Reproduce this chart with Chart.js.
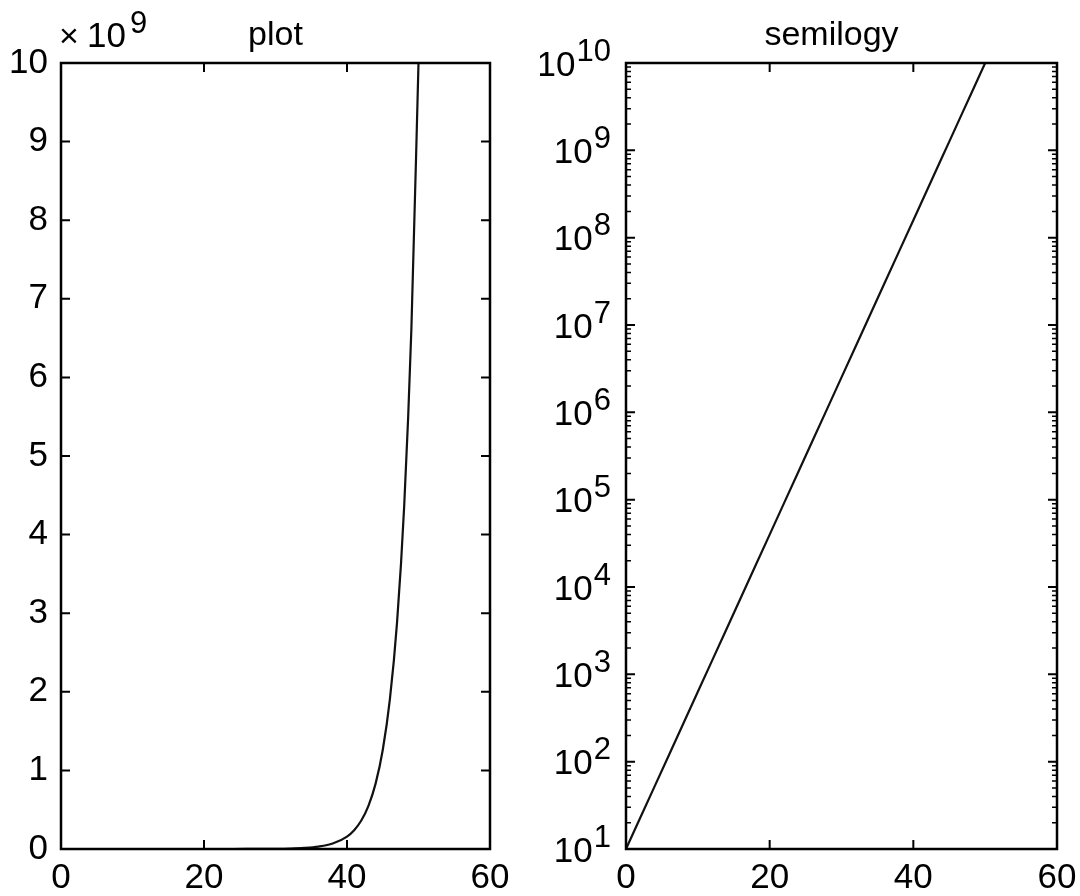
<!DOCTYPE html>
<html>
<head>
<meta charset="utf-8">
<script src="https://cdn.jsdelivr.net/npm/chart.js@4"></script>
<style>
  body { margin: 0; background: #fff; }
  canvas { position: absolute; top: 0; }
  #left { left: 0; }
  #right { left: 540px; }
</style>
</head>
<body>
<canvas id="left" width="540" height="896"></canvas>
<canvas id="right" width="540" height="896"></canvas>
<script>
// values (same curve in both panels)
const xVals = [0, 2, 4, 6, 8, 10, 12, 14, 16, 18, 20, 22, 24, 26, 28, 30, 32, 34, 36, 38,
  40, 41, 42, 43, 44, 45, 46, 47, 48, 49, 50];
const yVals = [10, 22.9, 52.5, 120, 275, 631, 1445, 3311, 7586, 17378, 39811, 91201,
  208930, 478630, 1096478, 2511886, 5754399, 13182567, 30199517, 69183097,
  158489319, 239883292, 363078055, 549540874, 831763771, 1258925412, 1905460718,
  2884031503, 4365158322, 6606934480, 10000000000];
const xTicks = [0, 20, 40, 60];
const linTicks = [0, 1, 2, 3, 4, 5, 6, 7, 8, 9, 10]; // x 10^9
const logExps = [1, 2, 3, 4, 5, 6, 7, 8, 9, 10];
const titles = ['plot', 'semilogy'];

const FONT = '"Liberation Sans", Arial, Helvetica, sans-serif';
Chart.defaults.font.family = FONT;
Chart.defaults.color = '#000';

const points = xVals.map((x, i) => ({ x: x, y: yVals[i] }));

// frame, inward ticks, title and the x10^9 / 10^n labels
const boxPlugin = {
  id: 'box',
  afterDatasetsDraw(chart, args, opts) {
    const ctx = chart.ctx;
    const a = chart.chartArea;
    const sx = chart.scales.x, sy = chart.scales.y;
    ctx.save();
    ctx.strokeStyle = '#000';
    ctx.lineWidth = 2;
    ctx.beginPath();
    xTicks.forEach(v => {
      const px = sx.getPixelForValue(v);
      ctx.moveTo(px, a.bottom); ctx.lineTo(px, a.bottom - 9);
      ctx.moveTo(px, a.top); ctx.lineTo(px, a.top + 9);
    });
    let majors, minors = [];
    if (opts.log) {
      majors = logExps.map(e => Math.pow(10, e));
      logExps.slice(0, -1).forEach(e => {
        for (let m = 2; m <= 9; m++) minors.push(m * Math.pow(10, e));
      });
    } else {
      majors = linTicks.map(v => v * 1e9);
    }
    majors.forEach(v => {
      const py = sy.getPixelForValue(v);
      ctx.moveTo(a.left, py); ctx.lineTo(a.left + 9, py);
      ctx.moveTo(a.right, py); ctx.lineTo(a.right - 9, py);
    });
    ctx.stroke();
    ctx.lineWidth = 1.5;
    ctx.beginPath();
    minors.forEach(v => {
      const py = sy.getPixelForValue(v);
      ctx.moveTo(a.left, py); ctx.lineTo(a.left + 5, py);
      ctx.moveTo(a.right, py); ctx.lineTo(a.right - 5, py);
    });
    ctx.stroke();
    ctx.lineWidth = 2.5;
    ctx.strokeRect(a.left, a.top, a.right - a.left, a.bottom - a.top);

    ctx.fillStyle = '#000';
    ctx.textBaseline = 'alphabetic';
    ctx.textAlign = 'center';
    ctx.font = '34px ' + FONT;
    ctx.fillText(opts.title, (a.left + a.right) / 2 + (opts.titleShift || 0), 45);

    if (opts.log) {
      logExps.forEach(e => {
        const py = sy.getPixelForValue(Math.pow(10, e));
        ctx.font = '31px ' + FONT;
        const ew = ctx.measureText(String(e)).width;
        const xr = a.left - 15;
        ctx.textAlign = 'left';
        ctx.textBaseline = 'middle';
        ctx.fillText(String(e), xr - ew, py - 11);
        ctx.font = '35px ' + FONT;
        ctx.textAlign = 'right';
        ctx.fillText('10', xr - ew - 1, py + 3);
      });
    } else {
      ctx.textAlign = 'left';
      ctx.textBaseline = 'alphabetic';
      ctx.font = '34px ' + FONT;
      ctx.fillText('\u00d7', a.left - 2, a.top - 16);
      ctx.font = '35px ' + FONT;
      ctx.fillText('10', a.left + 26, a.top - 16);
      const w = ctx.measureText('10').width;
      ctx.font = '31px ' + FONT;
      ctx.fillText('9', a.left + 30 + w, a.top - 30);
    }
    ctx.restore();
  }
};

function lineDataset(mode) {
  return {
    data: points,
    borderColor: '#111',
    borderWidth: 2.2,
    pointRadius: 0,
    fill: false,
    cubicInterpolationMode: mode
  };
}

const xScale = {
  type: 'linear',
  min: 0,
  max: 60,
  afterBuildTicks: s => { s.ticks = xTicks.map(v => ({ value: v })); },
  afterFit: s => { s.height = 47; },
  grid: { display: false },
  border: { display: false },
  ticks: { font: { size: 35 }, color: '#000', padding: 0, maxRotation: 0, autoSkip: false }
};

new Chart(document.getElementById('left'), {
  type: 'line',
  data: { datasets: [lineDataset('monotone')] },
  options: {
    responsive: false,
    animation: false,
    layout: { padding: { top: 63, right: 50, left: 0, bottom: 0 } },
    plugins: {
      legend: { display: false },
      tooltip: { enabled: false },
      box: { title: titles[0], log: false }
    },
    scales: {
      x: xScale,
      y: {
        type: 'linear',
        min: 0,
        max: 1e10,
        afterBuildTicks: s => { s.ticks = linTicks.map(v => ({ value: v * 1e9 })); },
        afterFit: s => { s.width = 61; },
        grid: { display: false },
        border: { display: false },
        ticks: {
          font: { size: 35 },
          color: '#000',
          padding: 5,
          autoSkip: false,
          callback: v => String(v / 1e9)
        }
      }
    }
  },
  plugins: [boxPlugin]
});

new Chart(document.getElementById('right'), {
  type: 'line',
  data: { datasets: [lineDataset('default')] },
  options: {
    responsive: false,
    animation: false,
    layout: { padding: { top: 63, right: 23, left: 0, bottom: 0 } },
    plugins: {
      legend: { display: false },
      tooltip: { enabled: false },
      box: { title: titles[1], log: true, titleShift: -10 }
    },
    scales: {
      x: Object.assign({}, xScale),
      y: {
        type: 'logarithmic',
        min: 10,
        max: 1e10,
        afterBuildTicks: s => { s.ticks = logExps.map(e => ({ value: Math.pow(10, e) })); },
        afterFit: s => { s.width = 86; },
        grid: { display: false },
        border: { display: false },
        ticks: { display: false }
      }
    }
  },
  plugins: [boxPlugin]
});
</script>
</body>
</html>
